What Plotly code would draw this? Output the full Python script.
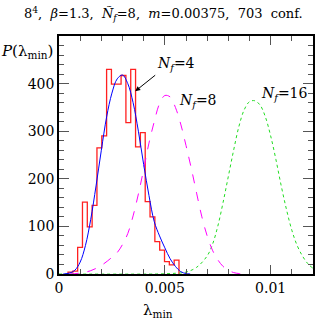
import numpy as np
import plotly.graph_objects as go

# histogram of lowest eigenvalue (step outline)
bin_lo = 0.000425
bin_w = 0.000228
counts = [4, 6, 56, 151, 99, 144, 265, 290, 430, 399, 399, 417, 318, 430,
          267, 297, 152, 120, 68, 50, 26, 19, 29]

# RMT predictions
x_nf4 = [0.0002, 0.0005, 0.00075, 0.001, 0.00125, 0.0015, 0.00175, 0.002, 0.00225,
         0.0025, 0.00275, 0.003, 0.00325, 0.0035, 0.00375, 0.004, 0.00425, 0.0045,
         0.00475, 0.005, 0.00525, 0.0055, 0.00575, 0.006, 0.0062]
y_nf4 = [0, 2, 8, 25, 60, 115, 185, 260, 330, 380, 410, 418, 400, 360, 300, 230,
         165, 110, 80, 55, 32, 16, 5, 1, 0]

x_nf8 = [0.0005, 0.001, 0.0015, 0.002, 0.0025, 0.00275, 0.003, 0.00325, 0.0035,
         0.00375, 0.004, 0.00425, 0.0045, 0.00475, 0.005, 0.00525, 0.0055, 0.00575,
         0.006, 0.00625, 0.0065, 0.00675, 0.007, 0.00725, 0.0075, 0.00775, 0.008,
         0.00825, 0.0085, 0.0088]
y_nf8 = [0, 2, 7, 18, 35, 45, 62, 85, 122, 168, 220, 275, 320, 358, 375, 372, 350,
         315, 270, 222, 170, 120, 80, 50, 30, 16, 8, 3, 1, 0]

x_nf16 = [0.0, 0.0045, 0.005, 0.0055, 0.006, 0.0065, 0.007, 0.00725, 0.0075, 0.00775,
          0.008, 0.00825, 0.0085, 0.00875, 0.009, 0.00925, 0.0095, 0.00975, 0.01,
          0.01025, 0.0105, 0.01075, 0.011, 0.01125, 0.0115, 0.01175, 0.012]
y_nf16 = [0, 0, 0.5, 1.5, 4, 14, 38, 62, 100, 150, 205, 260, 310, 345, 362, 364,
          355, 330, 290, 240, 185, 135, 92, 60, 38, 22, 12]

x_ticks = [0, 0.005, 0.01]
x_ticktext = ["0", "0.005", "0.01"]
y_ticks = [0, 100, 200, 300, 400]

serif = "DejaVu Serif, serif"

edges = bin_lo + bin_w * np.arange(len(counts) + 1)
hx = np.concatenate([[edges[0]], edges])
hy = np.concatenate([[0], counts, [0]])

fig = go.Figure()
fig.add_trace(go.Scatter(x=hx, y=hy, mode="lines", line_shape="hv",
                         line=dict(color="#ff2020", width=1.3)))
fig.add_trace(go.Scatter(x=x_nf16, y=y_nf16, mode="lines", line_shape="spline",
                         line=dict(color="#22dd22", width=1, dash="dot")))
fig.add_trace(go.Scatter(x=x_nf8, y=y_nf8, mode="lines", line_shape="spline",
                         line=dict(color="#ff00ff", width=1, dash="dash")))
fig.add_trace(go.Scatter(x=x_nf4, y=y_nf4, mode="lines", line_shape="spline",
                         line=dict(color="#0000ff", width=1)))

axis_common = dict(showgrid=False, zeroline=False, showline=True, linecolor="black",
                   linewidth=1.5, mirror="ticks", ticks="inside", tickcolor="#555",
                   tickfont=dict(family=serif, size=14, color="black"))
fig.update_xaxes(range=[0, 0.012], tickvals=x_ticks, ticktext=x_ticktext, ticklen=9,
                 minor=dict(ticks="inside", ticklen=5, dtick=0.001, tick0=0,
                            tickcolor="#555"),
                 **axis_common)
fig.update_yaxes(range=[0, 500], tickvals=y_ticks, ticklen=10,
                 minor=dict(ticks="inside", ticklen=5, dtick=20, tick0=0,
                            tickcolor="#555"),
                 **axis_common)

font_lbl = dict(family=serif, size=14, color="black")
fig.add_annotation(x=0.0036, y=384, ax=20, ay=-16, text="<i>N<sub>f</sub></i>=4",
                   showarrow=True, arrowhead=2, arrowsize=1, arrowwidth=1,
                   arrowcolor="black", xanchor="left", yanchor="bottom",
                   font=font_lbl)
fig.add_annotation(x=0.00558, y=363, text="<i>N<sub>f</sub></i>=8", showarrow=False,
                   xanchor="left", font=font_lbl)
fig.add_annotation(x=0.00946, y=378, text="<i>N<sub>f</sub></i>=16", showarrow=False,
                   xanchor="left", font=font_lbl)
fig.add_annotation(x=-0.015, y=0.985, xref="paper", yref="paper",
                   text="<i>P</i>(λ<sub>min</sub>)", showarrow=False, xanchor="right",
                   font=dict(family=serif, size=15, color="black"))
fig.add_annotation(x=0.0047, y=-0.105, yref="paper", text="λ<sub>min</sub>",
                   showarrow=False, yanchor="top",
                   font=dict(family=serif, size=15, color="black"))
fig.add_annotation(x=0.41, y=1.14, xref="paper", yref="paper",
                   text="8<sup>4</sup>,  <i>β</i>=1.3,  <i>Ñ<sub>f</sub></i>=8,  "
                   "<i>m</i>=0.00375,  703  conf.",
                   showarrow=False, font=dict(family=serif, size=13, color="black"))

fig.update_layout(width=327, height=321, showlegend=False,
                  margin=dict(l=59, r=14, t=36, b=47),
                  paper_bgcolor="white", plot_bgcolor="white")
# drop the page's default body margin so the figure sits at the window corner
fig.write_html("out.html", config={"displayModeBar": False},
               post_script="document.body.style.margin='0';")
